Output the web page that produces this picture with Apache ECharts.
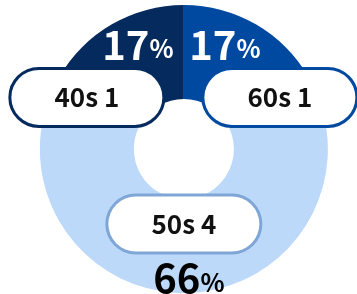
<!DOCTYPE html>
<html>
<head>
<meta charset="utf-8">
<script src="https://cdn.jsdelivr.net/npm/echarts@6/dist/echarts.min.js"></script>
<style>
  html, body { margin: 0; padding: 0; background: #fff; }
  #chart { width: 357px; height: 294px; }
</style>
</head>
<body>
<div id="chart"></div>
<script>
// clockwise from 12 o'clock
const names = ['60s', '50s', '40s'];
const counts = [1, 4, 1];
const percents = [17, 66, 17];

const fills = ['#0049A1', '#BCD9FA', '#052A5D'];
const borders = ['#0049A1', '#7FA6D6', '#052A5D'];
const pctColors = ['#fff', '#000', '#fff'];
// nudges away from the default "inside" label spot
const pctShift = [[-9, -18], [5, 29], [4, -18]];
const boxShift = [[46, 35], [0, -25], [-47, 35]];

const font = '"Noto Sans CJK KR", "Noto Sans", sans-serif';
const myChart = echarts.init(document.getElementById('chart'));

const pieData = names.map((n, i) => ({
  name: n,
  value: counts[i],
  itemStyle: { color: fills[i] }
}));

const option = {
  animation: false,
  series: [
    {
      type: 'pie',
      center: ['51.5%', 149],
      radius: [50, 144],
      startAngle: 90,
      clockwise: true,
      silent: true,
      data: pieData,
      label: {
        position: 'inside',
        formatter: p => `{n${p.dataIndex}|${percents[p.dataIndex]}}{p${p.dataIndex}|%}`,
        rich: Object.fromEntries(pctColors.flatMap((c, i) => [
          ['n' + i, { fontFamily: font, fontWeight: 'bold', fontSize: 40, color: c }],
          ['p' + i, { fontFamily: font, fontWeight: 'bold', fontSize: 25, color: c, padding: [8, 0, 0, 0] }]
        ]))
      },
      labelLine: { show: false },
      labelLayout: p => ({ dx: pctShift[p.dataIndex][0], dy: pctShift[p.dataIndex][1] })
    },
    {
      type: 'pie',
      center: ['51.5%', 149],
      radius: [50, 144],
      startAngle: 90,
      clockwise: true,
      silent: true,
      z: 5,
      data: names.map((n, i) => ({
        name: n,
        value: counts[i],
        itemStyle: { color: 'rgba(0,0,0,0)' },
        label: { borderColor: borders[i] }
      })),
      label: {
        position: 'inside',
        formatter: p => `${p.name} ${p.value}`,
        fontFamily: font,
        fontWeight: 'bold',
        fontSize: 26,
        color: '#111',
        backgroundColor: '#fff',
        borderWidth: 3,
        borderRadius: 28,
        width: 151,
        height: 55,
        lineHeight: 55,
        align: 'center'
      },
      labelLine: { show: false },
      labelLayout: p => ({ dx: boxShift[p.dataIndex][0], dy: boxShift[p.dataIndex][1] })
    }
  ]
};
myChart.setOption(option);
</script>
</body>
</html>
